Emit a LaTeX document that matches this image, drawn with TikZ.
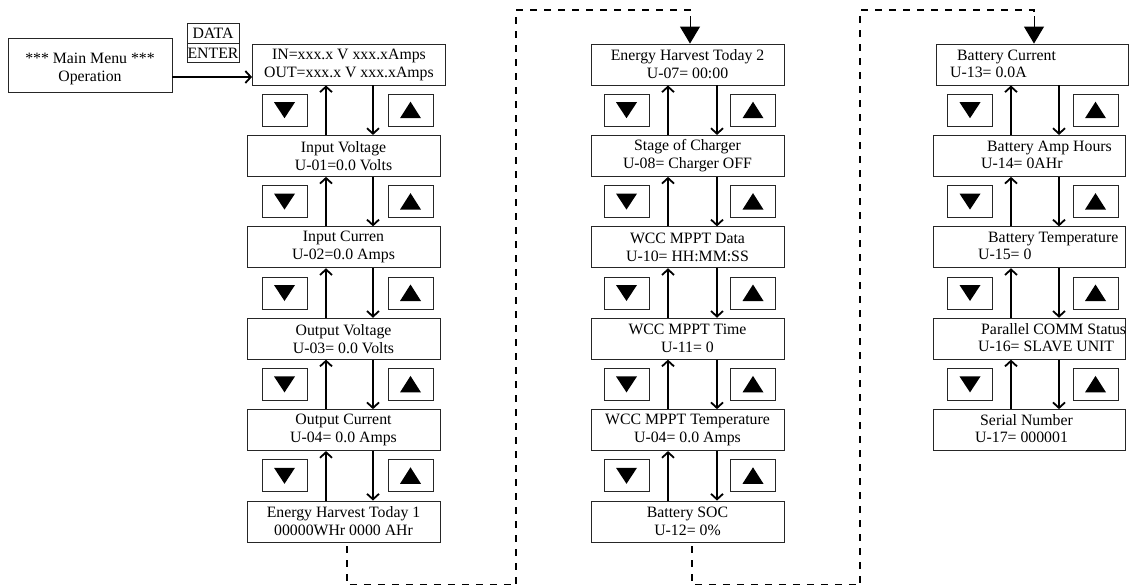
\documentclass[tikz,border=0pt]{standalone}
\usepackage{fontspec}
\setmainfont{Liberation Serif}
\usetikzlibrary{arrows.meta,calc}
\newcommand\diagfont{\fontsize{15.8}{18}\selectfont}
\begin{document}
\begin{tikzpicture}[x=1pt,y=-1pt,
  box/.style={draw=black!85, line width=0.9pt, minimum width=193pt, minimum height=41pt,
    inner sep=0pt, align=center, font=\diagfont},
  box3/.style={box, minimum width=192pt},
  btn/.style={draw=black!85, line width=0.9pt, minimum width=45pt, minimum height=32pt, inner sep=0pt},
  txt/.style={anchor=base west, inner sep=0pt, font=\diagfont},
  arr/.style={line width=2.1pt, -{Straight Barb[length=5.5pt,width=12pt,line width=1.8pt]}},
  dsh0/.style={line width=2.5pt, dash pattern=on 7pt off 7pt},
  tip/.style={line width=1pt, -{Triangle[length=17pt,width=20pt]}}]
\useasboundingbox (0,0) rectangle (1133,584);

% main menu and key
\node[draw=black!85, line width=0.9pt, minimum width=164pt, minimum height=54pt, inner sep=0pt] (menu) at (90,65) {};
\node[align=center, font=\diagfont, inner sep=0pt] (menut) at (90,69) {*** Main Menu ***\\Operation};
\node[draw=black!85, line width=0.9pt, minimum width=52pt, minimum height=19.5pt, inner sep=0pt,
  font=\diagfont] (data) at (213,33.5) {DATA};
\node[draw=black!85, line width=0.9pt, minimum width=52pt, minimum height=19.5pt, inner sep=0pt,
  font=\diagfont] (enter) at (213,53) {ENTER};

% column 1
\node[box] (a0) at (349,64.5) {IN=xxx.x V xxx.xAmps\\OUT=xxx.x V xxx.xAmps};
\node[box] (a1) at (343.5,155.9) {Input Voltage\\U-01=0.0 Volts};
\node[box] (a2) at (343.5,247.3) {Input Curren\\U-02=0.0 Amps};
\node[box] (a3) at (343.5,338.7) {Output Voltage\\U-03= 0.0 Volts};
\node[box] (a4) at (343.5,430.1) {Output Current\\U-04= 0.0 Amps};
\node[box] (a5) at (343.5,521.5) {Energy Harvest Today 1\\00000WHr 0000 AHr};

% column 2
\node[box] (b0) at (687.5,64.5) {Energy Harvest Today 2\\U-07= 00:00};
\node[box] (b1) at (687.5,155.9) {Stage of Charger\\U-08= Charger OFF};
\node[box] (b2) at (687.5,247.3) {WCC MPPT Data\\U-10= HH:MM:SS};
\node[box] (b3) at (687.5,338.7) {WCC MPPT Time\\U-11= 0};
\node[box] (b4) at (687.5,430.1) {WCC MPPT Temperature\\U-04= 0.0 Amps};
\node[box] (b5) at (687.5,521.5) {Battery SOC\\U-12= 0\%};

% column 3
\node[box3] (c0) at (1032.5,64.5) {};
\node[box3] (c1) at (1029,155.9) {};
\node[box3] (c2) at (1029,247.3) {};
\node[box3] (c3) at (1029,338.7) {};
\node[box3] (c4) at (1029,430.1) {};
\node[txt] (c0t) at (957,60) {Battery Current};
\node[txt] (c0u) at (950,77) {U-13= 0.0A};
\node[txt] (c1t) at (987,151.4) {Battery Amp Hours};
\node[txt] (c1u) at (981,168.4) {U-14= 0AHr};
\node[txt] (c2t) at (988,242.8) {Battery Temperature};
\node[txt] (c2u) at (978,259.8) {U-15= 0};
\node[txt] (c3t) at (981,334.2) {Parallel COMM Status};
\node[txt] (c3u) at (978,351.2) {U-16= SLAVE UNIT};
\node[txt] (c4t) at (980,425.6) {Serial Number};
\node[txt] (c4u) at (975,442.6) {U-17= 000001};

% x positions of connectors
\coordinate (au) at (326,0);  \coordinate (ad) at (373,0);
\coordinate (bu) at (668,0);  \coordinate (bd) at (717,0);
\coordinate (cu) at (1011,0); \coordinate (cd) at (1059,0);

% buttons and up/down connectors
\foreach \col/\nrows/\xdn/\xup in {a/4/284.5/410.5, b/4/626.5/753, c/3/970/1095.5} {
  \foreach \i in {0,...,\nrows} {
    \pgfmathtruncatemacro\j{\i+1}
    \node[btn] (\col\i dn) at (\xdn,110.2+91.4*\i) {};
    \node[btn] (\col\i up) at (\xup,110.2+91.4*\i) {};
    \fill (\col\i dn.center) ++(-10.5,-8) -- ++(21,0) -- ++(-10.5,16) -- cycle;
    \fill (\col\i up.center) ++(-10.5,8) -- ++(21,0) -- ++(-10.5,-16.5) -- cycle;
    \draw[arr] (\col\j.north -| \col u) -- (\col\i.south -| \col u);
    \draw[arr] (\col\i.south -| \col d) -- (\col\j.north -| \col d);
  }
}

% entry arrow
\coordinate (my) at (0,77);
\draw[arr] (menu.east |- my) -- (a0.west |- my);

% dashed links between columns
\coordinate (p1) at (347,585.6);
\coordinate (p2) at (516,585.6);
\coordinate (p3) at (516,10);
\coordinate (p4) at (690,10);
\draw[dsh0] (a5.south -| p1) ++(0,4) -- (p1) -- (p2) -- (p3) -- (p4) -- ++(0,6);
\draw[tip] (p4) ++(0,6) -- (b0.north -| p4);

\coordinate (q1) at (692,585.6);
\coordinate (q2) at (860,585.6);
\coordinate (q3) at (860,10);
\coordinate (q4) at (1034,10);
\draw[dsh0] (b5.south -| q1) ++(0,4) -- (q1) -- (q2) -- (q3) -- (q4) -- ++(0,6);
\draw[tip] (q4) ++(0,6) -- (c0.north -| q4);
\end{tikzpicture}
\end{document}
